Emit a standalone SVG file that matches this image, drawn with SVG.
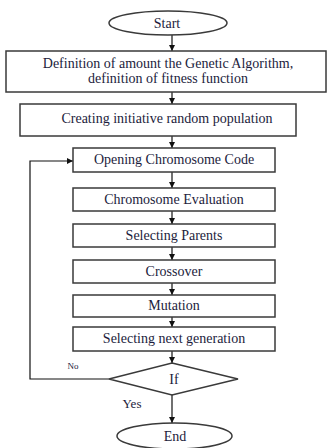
<svg xmlns="http://www.w3.org/2000/svg" width="327" height="448" viewBox="0 0 327 448">
<style>
.box{fill:#fff;stroke:#3a3a3a;stroke-width:1.5}
.t{font-family:"Liberation Serif","Times New Roman",serif;font-size:14px;fill:#1c1c3c;text-anchor:middle}
.c{fill:none;stroke:#111;stroke-width:1.2}
</style>
<defs>
<marker id="ah" viewBox="0 0 10 10" refX="10" refY="5" markerWidth="6" markerHeight="6" orient="auto" markerUnits="userSpaceOnUse">
<path d="M0,0 L10,5 L0,10 Z" fill="#111"/>
</marker>
</defs>
<rect width="327" height="448" fill="#fff"/>
<g id="connectors">
<line class="c" x1="172" y1="35" x2="172" y2="51" marker-end="url(#ah)"/>
<line class="c" x1="172" y1="92" x2="172" y2="104" marker-end="url(#ah)"/>
<line class="c" x1="172" y1="136" x2="172" y2="148" marker-end="url(#ah)"/>
<line class="c" x1="172" y1="172" x2="172" y2="188" marker-end="url(#ah)"/>
<line class="c" x1="172" y1="211" x2="172" y2="224" marker-end="url(#ah)"/>
<line class="c" x1="172" y1="247" x2="172" y2="260" marker-end="url(#ah)"/>
<line class="c" x1="172" y1="283" x2="172" y2="295" marker-end="url(#ah)"/>
<line class="c" x1="172" y1="317" x2="172" y2="327" marker-end="url(#ah)"/>
<line class="c" x1="172" y1="351" x2="172" y2="363" marker-end="url(#ah)"/>
<line class="c" x1="172" y1="395" x2="172" y2="423" marker-end="url(#ah)"/>
<polyline class="c" points="109,379 30,379 30,161 73,161" marker-end="url(#ah)"/>
<text class="t" x="73" y="369" style="font-size:9px">No</text>
<text class="t" x="132" y="408" style="font-size:13px">Yes</text>
</g>
<g id="start">
<ellipse class="box" cx="168" cy="23" rx="59" ry="12"/>
<text class="t" x="167" y="28">Start</text>
</g>
<g id="definition">
<rect class="box" x="6" y="51" width="320" height="41"/>
<text class="t" x="168" y="68">Definition of amount the Genetic Algorithm,</text>
<text class="t" x="168" y="83">definition of fitness function</text>
</g>
<g id="creating">
<rect class="box" x="20" y="104" width="276" height="32"/>
<text class="t" x="167" y="123">Creating initiative random population</text>
</g>
<g id="opening">
<rect class="box" x="73" y="148" width="202" height="24"/>
<text class="t" x="174" y="164">Opening Chromosome Code</text>
</g>
<g id="evaluation">
<rect class="box" x="73" y="188" width="202" height="23"/>
<text class="t" x="174" y="204">Chromosome Evaluation</text>
</g>
<g id="parents">
<rect class="box" x="73" y="224" width="202" height="23"/>
<text class="t" x="174" y="240">Selecting Parents</text>
</g>
<g id="crossover">
<rect class="box" x="73" y="260" width="202" height="23"/>
<text class="t" x="174" y="276">Crossover</text>
</g>
<g id="mutation">
<rect class="box" x="73" y="295" width="202" height="22"/>
<text class="t" x="174" y="310">Mutation</text>
</g>
<g id="nextgen">
<rect class="box" x="73" y="327" width="202" height="24"/>
<text class="t" x="174" y="343">Selecting next generation</text>
</g>
<g id="if">
<polygon class="box" points="172,363 238,379 172,395 109,379"/>
<text class="t" x="174" y="384">If</text>
</g>
<g id="end">
<ellipse class="box" cx="174.5" cy="436" rx="57.5" ry="13"/>
<text class="t" x="175" y="441">End</text>
</g>
</svg>
